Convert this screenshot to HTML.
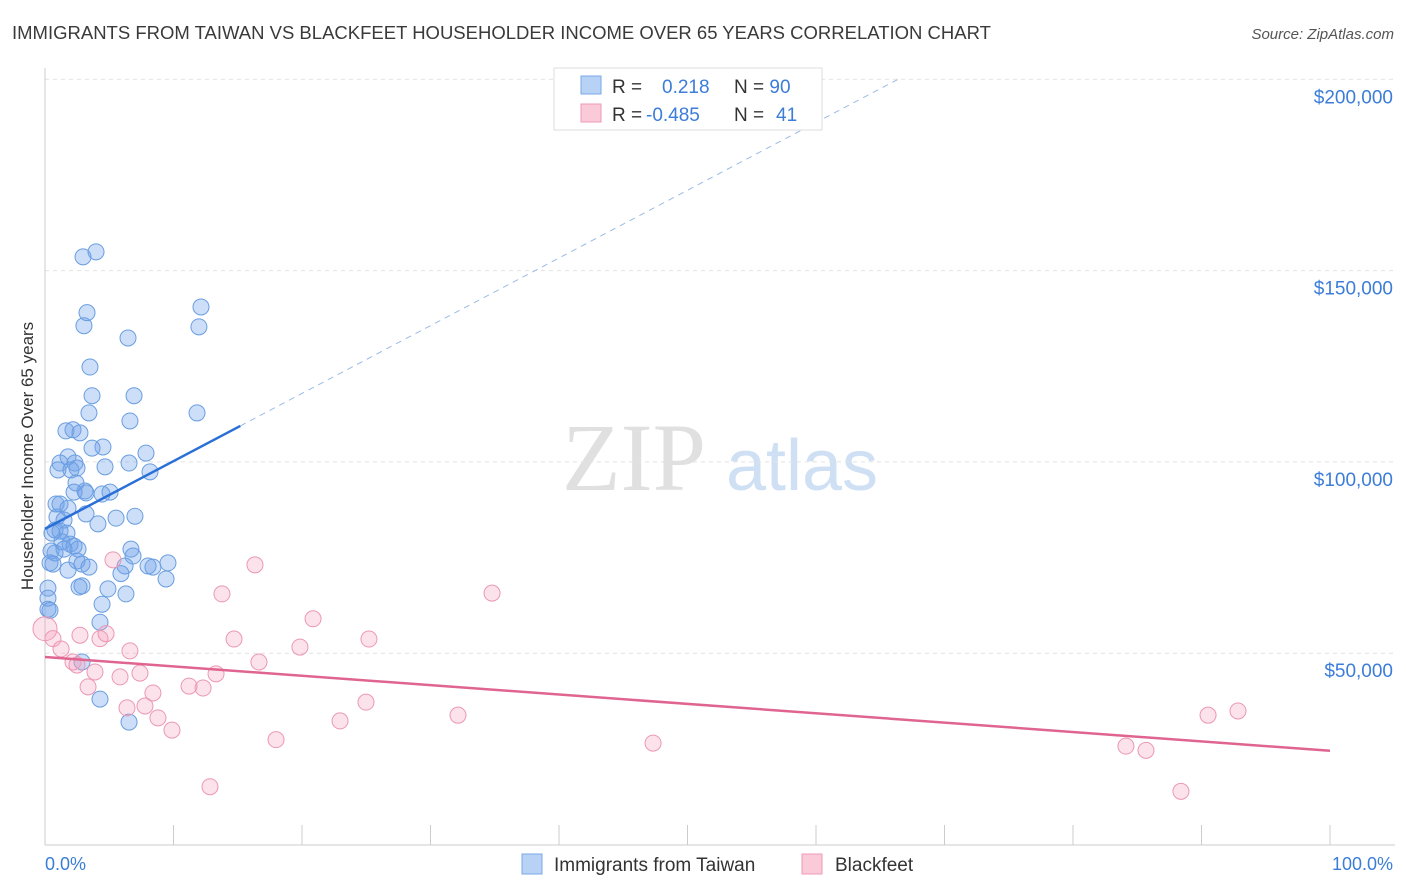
<!DOCTYPE html>
<html><head><meta charset="utf-8"><style>
body{margin:0;background:#fff;font-family:"Liberation Sans",sans-serif;}
svg{display:block}
</style></head><body>
<svg id="chart" width="1406" height="892" xmlns="http://www.w3.org/2000/svg">
<text x="12" y="39" font-size="18.5" fill="#3a3a3a">IMMIGRANTS FROM TAIWAN VS BLACKFEET HOUSEHOLDER INCOME OVER 65 YEARS CORRELATION CHART</text>
<text x="1394" y="39" font-size="15" fill="#555" font-style="italic" text-anchor="end">Source: ZipAtlas.com</text>
<g>
<text x="634" y="490" font-size="96" font-family="Liberation Serif,serif" fill="#e0e0e0" text-anchor="middle">ZIP</text>
<text x="802" y="490" font-size="72" fill="#cfe0f4" text-anchor="middle">atlas</text>
</g>
<g id="grid"></g>
<g id="axes"></g>
<g id="marks"></g>
<text transform="translate(33,456) rotate(-90)" font-size="17" fill="#333" text-anchor="middle">Householder Income Over 65 years</text>
<text x="45" y="870" font-size="18" fill="#3b7dd8">0.0%</text>
<text x="1393" y="870" font-size="18" fill="#3b7dd8" text-anchor="end">100.0%</text>
<g>
<rect x="554" y="68" width="268" height="62" fill="#fff" stroke="#ddd"/>
<rect x="581" y="76" width="20" height="18" fill="#b8d2f5" stroke="#7aa8e8"/>
<rect x="581" y="104" width="20" height="18" fill="#fbcad9" stroke="#ee9ab5"/>
<text x="612" y="93" font-size="19" fill="#333">R = <tspan fill="#3b7dd8" x="662">0.218</tspan><tspan fill="#333" x="734">N = </tspan><tspan fill="#3b7dd8">90</tspan></text>
<text x="612" y="121" font-size="19" fill="#333">R = <tspan fill="#3b7dd8" x="646">-0.485</tspan><tspan fill="#333" x="734">N = </tspan><tspan fill="#3b7dd8" x="776">41</tspan></text>
</g>
<g>
<rect x="522" y="854" width="20" height="20" fill="#b8d2f5" stroke="#7aa8e8"/>
<text x="554" y="871" font-size="19" fill="#333">Immigrants from Taiwan</text>
<rect x="802" y="854" width="20" height="20" fill="#fbcad9" stroke="#ee9ab5"/>
<text x="835" y="871" font-size="19" fill="#333">Blackfeet</text>
</g>
</svg>
<script>
const yTicks=[50,100,150,200];
const yTickLabels=["$50,000","$100,000","$150,000","$200,000"];
const xTicks=[0,10,20,30,40,50,60,70,80,90,100];
const taiwanX=[2.96,3.97,3.03,3.27,6.46,12.14,11.98,3.50,3.66,6.93,3.42,6.61,11.83,1.63,2.18,2.72,4.51,3.66,7.86,1.79,2.33,1.17,1.01,2.02,2.49,4.67,6.54,8.17,2.41,3.11,2.26,5.06,3.19,4.44,0.86,1.17,1.79,3.19,5.53,7.00,0.93,1.48,4.12,0.78,1.17,0.54,1.71,1.32,1.95,2.26,2.57,6.69,0.47,0.78,1.48,2.49,2.88,3.42,6.85,8.02,8.40,9.57,0.39,0.62,1.79,6.23,5.91,2.88,2.65,4.90,9.42,6.30,0.23,0.23,4.44,0.23,0.39,4.28,2.88,4.28,6.54];
const taiwanY=[153.6,154.9,135.6,139.0,132.4,140.5,135.3,124.8,117.3,117.3,112.8,110.7,112.8,108.1,108.4,107.6,103.9,103.6,102.3,101.3,99.7,99.7,97.9,97.9,98.4,98.7,99.7,97.4,94.5,92.4,92.1,92.1,91.9,91.6,89.0,89.0,87.9,86.4,85.3,85.8,85.6,84.8,83.8,82.2,81.9,81.4,81.4,79.1,78.5,78.0,77.2,77.2,76.7,76.2,77.2,74.1,73.3,72.5,75.4,72.8,72.5,73.6,73.6,73.3,71.7,72.8,70.8,67.6,67.3,66.8,69.4,65.5,67.0,64.4,62.8,61.5,61.2,58.1,47.7,38.0,32.0];
const blackfeetX=[0,0.62,1.25,2.18,2.49,2.72,3.89,3.35,4.28,4.75,5.29,5.84,6.61,7.39,6.38,7.78,8.40,8.79,9.88,11.21,12.30,13.31,12.84,13.77,14.71,16.34,16.65,17.98,19.84,20.86,22.96,24.98,25.21,32.14,34.79,47.32,84.12,85.68,88.40,90.51,92.84];
const blackfeetY=[56.4,53.8,51.1,47.7,46.9,54.7,45.1,41.2,53.8,55.1,74.4,43.8,50.6,44.8,35.7,36.2,39.6,33.1,29.9,41.4,40.9,44.6,15.1,65.5,53.7,73.1,47.7,27.4,51.6,59.0,32.3,37.2,53.7,33.8,65.7,26.5,25.7,24.6,13.9,33.8,34.9];
const taiwanTrend=[82.5,1.77];
const blackfeetTrend=[49,-0.245];
const NS="http://www.w3.org/2000/svg";
const xs=v=>45+v*12.85, ys=v=>844.5-v*3.826;
function mk(parent,tag,attrs){const e=document.createElementNS(NS,tag);for(const k in attrs)e.setAttribute(k,attrs[k]);document.getElementById(parent).appendChild(e);return e;}
yTicks.forEach((t,i)=>{
 let l=mk('grid','line',{x1:45,x2:1395,y1:ys(t),y2:ys(t),stroke:'#e2e2e2','stroke-dasharray':'4,4'});
 
 
 let tx=mk('grid','text',{x:1393,y:ys(t)+24,'font-size':19,fill:'#3b7dd8','text-anchor':'end'});
 tx.textContent=yTickLabels[i];
 
 
});
let ya=mk('axes','line',{x1:45,x2:45,y1:68,y2:845,stroke:'#ccc'});


let xa=mk('axes','line',{x1:45,x2:1395,y1:845,y2:845,stroke:'#ccc'});


xTicks.forEach(t=>{
 let l=mk('axes','line',{x1:xs(t),x2:xs(t),y1:825,y2:845,stroke:'#ccc'});
 
 
});
taiwanX.forEach((x,i)=>{
 let c=mk('marks','circle',{cx:xs(x),cy:ys(taiwanY[i]),r:8,fill:'rgba(110,160,235,0.35)',stroke:'#6a9ee0','stroke-width':1});
 
 
});
blackfeetX.forEach((x,i)=>{
 let c=mk('marks','circle',{cx:xs(x),cy:ys(blackfeetY[i]),r:i===0?12:8,fill:'rgba(245,160,190,0.3)',stroke:'#eb98b3','stroke-width':1});
 
 
});
const tEnd=(200-taiwanTrend[0])/taiwanTrend[1];
let td=mk('marks','line',{x1:xs(15.2),y1:ys(taiwanTrend[0]+taiwanTrend[1]*15.2),x2:xs(tEnd),y2:ys(200),stroke:'#9bbbe6','stroke-width':1,'stroke-dasharray':'6,5'});


let ts=mk('marks','line',{x1:xs(0),y1:ys(taiwanTrend[0]),x2:xs(15.2),y2:ys(taiwanTrend[0]+taiwanTrend[1]*15.2),stroke:'#2a6fd6','stroke-width':2.5});


let bt=mk('marks','line',{x1:xs(0),y1:ys(blackfeetTrend[0]),x2:xs(100),y2:ys(blackfeetTrend[0]+blackfeetTrend[1]*100),stroke:'#e06490','stroke-width':2.5});


</script>
</body></html>
